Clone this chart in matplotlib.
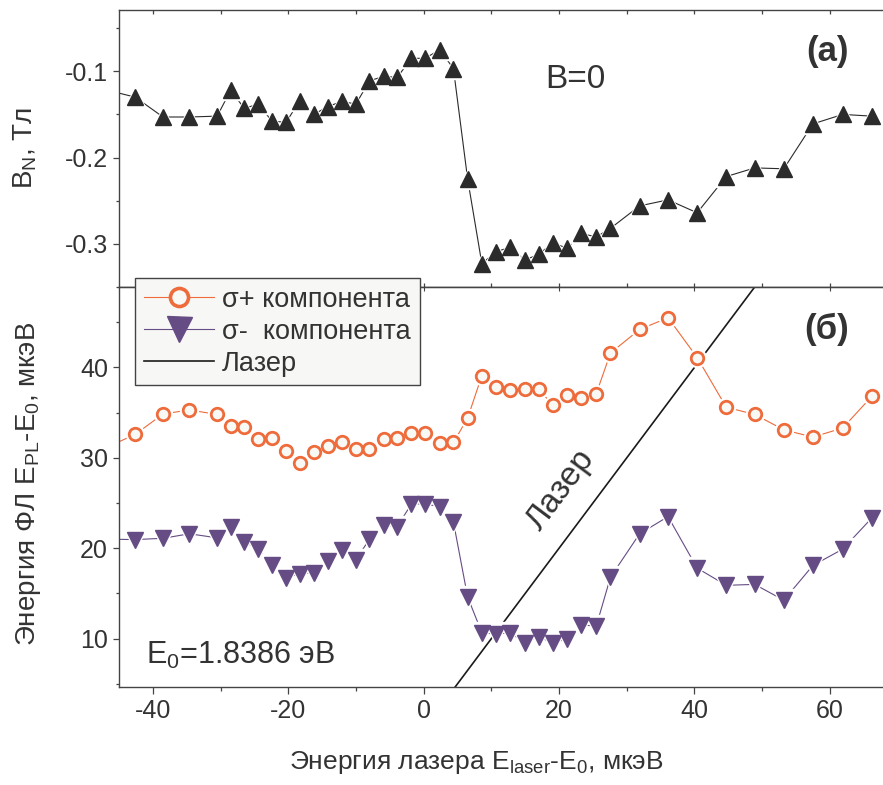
import matplotlib
matplotlib.use("Agg")
import matplotlib.pyplot as plt
from matplotlib.lines import Line2D
from matplotlib.ticker import MultipleLocator, FormatStrFormatter

plt.rcParams['font.family'] = ['Liberation Sans', 'DejaVu Sans']
plt.rcParams['mathtext.fontset'] = 'custom'
plt.rcParams['mathtext.rm'] = 'Liberation Sans'
plt.rcParams['mathtext.it'] = 'Liberation Sans'
plt.rcParams['axes.unicode_minus'] = False

# ---- data ----
e_laser = [-46.7, -42.6, -38.5, -34.6, -30.5, -28.5, -26.5, -24.4, -22.4, -20.3,
           -18.3, -16.2, -14.2, -12.1, -10.0, -8.0, -5.9, -3.9, -1.8, 0.2,
           2.4, 4.4, 6.5, 8.6, 10.7, 12.8, 14.9, 17.0, 19.1, 21.2,
           23.3, 25.5, 27.6, 31.9, 36.1, 40.4, 44.7, 48.9, 53.2, 57.5,
           61.9, 66.2]
b_n = [-0.122, -0.130, -0.153, -0.153, -0.152, -0.122, -0.143, -0.138, -0.158, -0.159,
       -0.134, -0.150, -0.141, -0.135, -0.138, -0.111, -0.106, -0.107, -0.085, -0.085,
       -0.075, -0.097, -0.225, -0.323, -0.309, -0.304, -0.319, -0.312, -0.299, -0.305,
       -0.288, -0.292, -0.282, -0.256, -0.249, -0.264, -0.222, -0.212, -0.213, -0.161,
       -0.150, -0.152]
sigma_plus = [31.2, 32.6, 34.85, 35.3, 34.8, 33.5, 33.4, 32.1, 32.2, 30.8,
              29.4, 30.7, 31.3, 31.8, 31.0, 31.0, 32.1, 32.2, 32.7, 32.75,
              31.6, 31.7, 34.4, 39.1, 37.85, 37.5, 37.6, 37.6, 35.8, 36.9,
              36.6, 37.1, 41.6, 44.2, 45.5, 41.1, 35.6, 34.8, 33.1, 32.3,
              33.3, 36.8]
sigma_minus = [21.0, 20.96, 21.1, 21.6, 21.15, 22.4, 20.7, 19.9, 18.1, 16.7,
               17.2, 17.3, 18.6, 19.85, 18.75, 21.0, 22.55, 22.4, 24.9, 24.9,
               24.6, 22.9, 14.6, 10.65, 10.5, 10.65, 9.55, 10.2, 9.5, 10.0,
               11.5, 11.4, 16.8, 21.6, 23.5, 17.8, 15.9, 16.0, 14.25, 18.1,
               19.9, 23.35]
laser_x = [-45, 68]
laser_y = [-45, 68]

x_ticks = [-40, -20, 0, 20, 40, 60]
top_yticks = [-0.3, -0.2, -0.1]
bot_yticks = [10, 20, 30, 40]

# ---- style ----
TXT = '#333333'
SP = '#444444'
C_TRI = '#2b2b2b'
C_OR = '#ee6b3b'
C_PU = '#664c84'
FS = 18

fig = plt.figure(figsize=(8.83, 7.85), dpi=100)
L, R = 119/883, 884/883
ax1 = fig.add_axes([L, 1-287/785, R-L, 277/785])
ax2 = fig.add_axes([L, 1-687/785, R-L, 400/785])


def fpos(px, py):
    return px/883, 1-py/785


for ax in (ax1, ax2):
    ax.set_xlim(-45, 68)
    ax.xaxis.set_major_locator(MultipleLocator(20))
    ax.xaxis.set_minor_locator(MultipleLocator(10))
    for s in ax.spines.values():
        s.set_color(SP)
        s.set_linewidth(1.0)
    ax.tick_params(which='both', colors=SP, labelcolor=TXT, labelsize=FS, width=0.9)
    ax.tick_params(axis='y', which='major', direction='out', length=4.5)
    ax.tick_params(axis='y', which='minor', direction='out', length=2.5)
    ax.yaxis.set_ticks_position('both')
    ax.tick_params(axis='y', which='both', right=True)

# top panel
ax1.set_ylim(-0.35, -0.029)
ax1.set_yticks(top_yticks)
ax1.yaxis.set_minor_locator(MultipleLocator(0.05))
ax1.yaxis.set_major_formatter(FormatStrFormatter('%.1f'))
ax1.tick_params(axis='x', which='both', direction='in', top=True, bottom=True,
                labelbottom=False, length=3)
ax1.plot(e_laser, b_n, '-', color=C_TRI, lw=0.8, zorder=2)
ax1.plot(e_laser, b_n, ls='none', marker='^', ms=15, color='white', zorder=3)
ax1.plot(e_laser, b_n, ls='none', marker='^', ms=11, color=C_TRI, zorder=4)
fig.text(*fpos(575, 79), 'B=0', fontsize=24, color=TXT, ha='center', va='center')
fig.text(*fpos(827, 51), '(a)', fontsize=25, fontweight='bold', color=TXT,
         ha='center', va='center')

# bottom panel
ax2.set_ylim(4.65, 48.9)
ax2.set_yticks(bot_yticks)
ax2.yaxis.set_minor_locator(MultipleLocator(5))
ax2.set_xticks(x_ticks)
ax2.tick_params(axis='x', which='major', direction='out', length=5, top=False)
ax2.tick_params(axis='x', which='minor', direction='out', length=3, top=False)
ax2.secondary_xaxis('top').tick_params(which='both', direction='in', length=3,
                                       labeltop=False, colors=SP)

ax2.plot(laser_x, laser_y, '-', color='#1a1a1a', lw=1.2, zorder=2)

ax2.plot(e_laser, sigma_plus, '-', color=C_OR, lw=0.8, zorder=2)
ax2.plot(e_laser, sigma_plus, ls='none', marker='o', ms=13, color='white', zorder=3)
ax2.plot(e_laser, sigma_plus, ls='none', marker='o', ms=9, mfc='#f8f8f4', mec=C_OR,
         mew=2.0, zorder=4)

ax2.plot(e_laser, sigma_minus, '-', color=C_PU, lw=0.8, zorder=2)
ax2.plot(e_laser, sigma_minus, ls='none', marker='v', ms=16, color='white', zorder=3)
ax2.plot(e_laser, sigma_minus, ls='none', marker='v', ms=12, color=C_PU, zorder=4)

ax2.text(20.3, 26.4, 'Лазер', rotation=45, transform_rotates_text=True,
         rotation_mode='anchor', fontsize=24, color=TXT, ha='center', va='center')
fig.text(*fpos(827, 329), '(б)', fontsize=25, fontweight='bold', color=TXT,
         ha='center', va='center')
fig.text(*fpos(146, 655), r'E$_0$=1.8386 эВ', fontsize=22, color=TXT,
         ha='left', va='center')

handles = [
    Line2D([], [], color=C_OR, lw=0.8, marker='o', ms=13, mfc='#f8f8f4', mec=C_OR, mew=2.6),
    Line2D([], [], color=C_PU, lw=0.8, marker='v', ms=18, mfc=C_PU, mec=C_PU),
    Line2D([], [], color='#1a1a1a', lw=1.2),
]
labels = ['σ+ компонента', 'σ-  компонента', 'Лазер']
leg = ax2.legend(handles, labels, loc='upper left', bbox_to_anchor=fpos(135, 278),
                 bbox_transform=fig.transFigure, borderaxespad=0, fontsize=19.5,
                 frameon=True, fancybox=False, framealpha=1, facecolor='#f7f7f5',
                 edgecolor=SP, handlelength=2.6, labelspacing=0.22, borderpad=0.32,
                 handletextpad=0.3)
leg.get_frame().set_linewidth(1.0)
for t in leg.get_texts():
    t.set_color(TXT)
leg.set_zorder(10)

fig.text(*fpos(25, 148), r'B$_N$, Тл', rotation=90, ha='center', va='center',
         fontsize=20, color=TXT)
fig.text(*fpos(29, 484), r'Энергия ФЛ E$_{PL}$-E$_0$, мкэВ', rotation=90,
         ha='center', va='center', fontsize=20, color=TXT)
fig.text(*fpos(476, 763), r'Энергия лазера E$_{laser}$-E$_0$, мкэВ',
         ha='center', va='center', fontsize=19, color=TXT)

fig.savefig('out.png', dpi=100)
